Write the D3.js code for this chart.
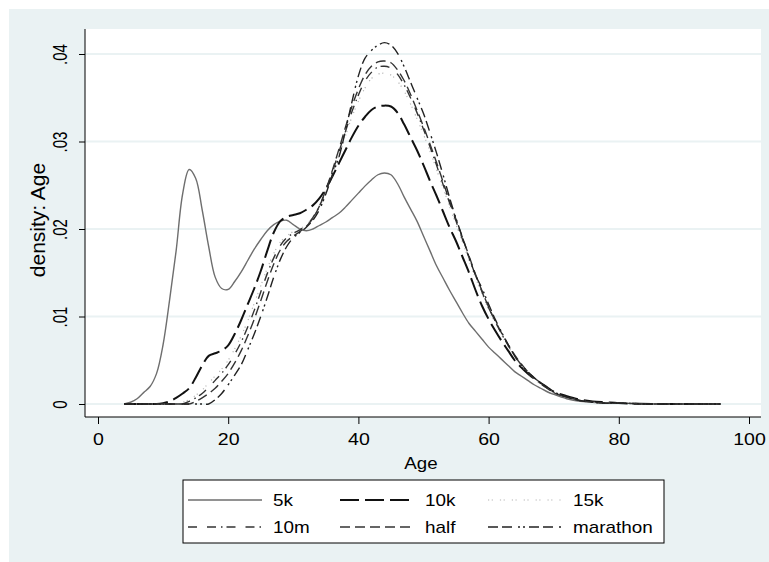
<!DOCTYPE html>
<html>
<head>
<meta charset="utf-8">
<script src="https://cdn.jsdelivr.net/npm/d3@7"></script>
<style>
  body { margin: 0; background: #fff; }
  text { font-family: "Liberation Sans", Arial, sans-serif; fill: #000; }
</style>
</head>
<body>
<script>
// age grid the densities were read at
var ages = [4, 5, 6, 7, 8, 9, 10, 11, 12, 13, 14, 15, 16, 17, 18, 19, 20, 21, 22, 23,
  24, 25, 26, 27, 28, 29, 30, 31, 32, 33, 34, 35, 36, 37, 38, 39, 40, 41, 42, 43,
  44, 45, 46, 47, 48, 49, 50, 51, 52, 53, 54, 55, 56, 57, 58, 59, 60, 61, 62, 63,
  64, 65, 66, 67, 68, 69, 70, 72, 74, 76, 78, 80, 85, 90, 95.6];

var d5k = [0, 0.0002, 0.0006, 0.0013, 0.0020, 0.0035, 0.0068, 0.0119, 0.0175, 0.0240,
  0.0268, 0.0258, 0.0222, 0.0180, 0.0145, 0.0132, 0.0131, 0.0140, 0.0151, 0.0164,
  0.0177, 0.0188, 0.0198, 0.0205, 0.0209, 0.0210, 0.0205, 0.0200, 0.0198, 0.0200,
  0.0204, 0.0208, 0.0213, 0.0218, 0.0225, 0.0233, 0.0241, 0.0249, 0.0256, 0.0262,
  0.0264, 0.0262, 0.0252, 0.0237, 0.0223, 0.0209, 0.0192, 0.0175, 0.0158, 0.0144,
  0.0130, 0.0117, 0.0104, 0.0092, 0.0083, 0.0074, 0.0065, 0.0058, 0.0051, 0.0044,
  0.0037, 0.0032, 0.0027, 0.0022, 0.0018, 0.0014, 0.0011, 0.0006, 0.0003, 0.0002,
  0.0001, 0.0001, 0, 0, 0];

var d10k = [0, 0, 0, 0, 0, 0, 0.0001, 0.0003, 0.0007, 0.0012,
  0.0018, 0.0030, 0.0044, 0.0055, 0.0058, 0.0061, 0.0067, 0.0080, 0.0096, 0.0114,
  0.0132, 0.0152, 0.0175, 0.0196, 0.0209, 0.0214, 0.0216, 0.0218, 0.0222, 0.0227,
  0.0235, 0.0246, 0.0260, 0.0275, 0.0290, 0.0305, 0.0318, 0.0328, 0.0336, 0.0340,
  0.0341, 0.0340, 0.0333, 0.0320, 0.0305, 0.0290, 0.0273, 0.0255, 0.0238, 0.0220,
  0.0202, 0.0186, 0.0168, 0.0150, 0.0130, 0.0112, 0.0097, 0.0084, 0.0072, 0.0061,
  0.0050, 0.0042, 0.0035, 0.0029, 0.0024, 0.0019, 0.0014, 0.0009, 0.0005, 0.0003,
  0.0002, 0.0001, 0, 0, 0];

var d15k = [0, 0, 0, 0, 0, 0, 0, 0, 0, 0.0002,
  0.0005, 0.0010, 0.0016, 0.0024, 0.0032, 0.0040, 0.0050, 0.0063, 0.0078, 0.0095,
  0.0115, 0.0135, 0.0155, 0.0172, 0.0185, 0.0192, 0.0197, 0.0200, 0.0205, 0.0213,
  0.0225, 0.0242, 0.0262, 0.0284, 0.0306, 0.0328, 0.0346, 0.0361, 0.0372, 0.0377,
  0.0378, 0.0376, 0.0369, 0.0358, 0.0343, 0.0326, 0.0308, 0.0289, 0.0268, 0.0247,
  0.0226, 0.0205, 0.0185, 0.0164, 0.0144, 0.0126, 0.0108, 0.0093, 0.0079, 0.0066,
  0.0054, 0.0044, 0.0036, 0.0029, 0.0023, 0.0018, 0.0013, 0.0008, 0.0004, 0.0002,
  0.0001, 0.0001, 0, 0, 0];

var d10m = [0, 0, 0, 0, 0, 0, 0, 0, 0, 0,
  0.0003, 0.0007, 0.0012, 0.0019, 0.0027, 0.0035, 0.0045, 0.0057, 0.0071, 0.0088,
  0.0107, 0.0128, 0.0149, 0.0167, 0.0181, 0.0190, 0.0195, 0.0199, 0.0204, 0.0213,
  0.0226, 0.0244, 0.0265, 0.0288, 0.0311, 0.0334, 0.0353, 0.0369, 0.0379, 0.0385,
  0.0386, 0.0384, 0.0377, 0.0365, 0.0350, 0.0333, 0.0314, 0.0294, 0.0273, 0.0251,
  0.0230, 0.0209, 0.0188, 0.0167, 0.0147, 0.0128, 0.0110, 0.0095, 0.0080, 0.0067,
  0.0055, 0.0045, 0.0036, 0.0029, 0.0023, 0.0018, 0.0013, 0.0008, 0.0004, 0.0002,
  0.0001, 0.0001, 0, 0, 0];

var dHalf = [0, 0, 0, 0, 0, 0, 0, 0, 0, 0,
  0, 0.0003, 0.0007, 0.0012, 0.0018, 0.0026, 0.0035, 0.0047, 0.0061, 0.0078,
  0.0097, 0.0118, 0.0140, 0.0160, 0.0176, 0.0186, 0.0192, 0.0197, 0.0203, 0.0212,
  0.0226, 0.0245, 0.0267, 0.0291, 0.0316, 0.0340, 0.0360, 0.0376, 0.0386, 0.0391,
  0.0392, 0.0390, 0.0382, 0.0370, 0.0354, 0.0336, 0.0317, 0.0297, 0.0276, 0.0254,
  0.0232, 0.0211, 0.0190, 0.0169, 0.0148, 0.0129, 0.0111, 0.0095, 0.0081, 0.0068,
  0.0056, 0.0046, 0.0037, 0.0030, 0.0024, 0.0018, 0.0013, 0.0008, 0.0004, 0.0002,
  0.0001, 0.0001, 0, 0, 0];

var dMarathon = [0, 0, 0, 0, 0, 0, 0, 0, 0, 0,
  0, 0, 0, 0, 0.0005, 0.0012, 0.0022, 0.0033, 0.0045, 0.0062,
  0.0080, 0.0100, 0.0122, 0.0145, 0.0165, 0.0180, 0.0190, 0.0196, 0.0202, 0.0210,
  0.0222, 0.0240, 0.0262, 0.0282, 0.0312, 0.0345, 0.0375, 0.0395, 0.0404, 0.0410,
  0.0413, 0.0410, 0.0401, 0.0386, 0.0368, 0.0350, 0.0332, 0.0310, 0.0287, 0.0262,
  0.0236, 0.0212, 0.0190, 0.0168, 0.0147, 0.0132, 0.0114, 0.0097, 0.0082, 0.0068,
  0.0055, 0.0045, 0.0037, 0.0030, 0.0024, 0.0019, 0.0014, 0.0008, 0.0004, 0.0002,
  0.0001, 0.0001, 0, 0, 0];

var seriesNames = ["5k", "10k", "15k", "10m", "half", "marathon"];
var seriesValues = [d5k, d10k, d15k, d10m, dHalf, dMarathon];

var xTicks = [0, 20, 40, 60, 80, 100];
var yTicks = [0, 0.01, 0.02, 0.03, 0.04];

// line look per series, same order as seriesNames
var styles = [
  { color: "#6e6e6e", width: 1.4, dash: null },
  { color: "#111", width: 2, dash: "19,6" },
  { color: "#b4b4b4", width: 1.2, dash: "1.2,2.5,1.2,7" },
  { color: "#333", width: 1.4, dash: "9,10,9,5,1.5,4" },
  { color: "#333", width: 1.4, dash: "10,5" },
  { color: "#222", width: 1.4, dash: "10,4,10,6,2,3,2,4" }
];

var W = 769, H = 562;
var plot = { left: 85, right: 761, top: 29, bottom: 417 };

var svg = d3.select("body").append("svg")
  .attr("width", W)
  .attr("height", H);

// outer graph region
svg.append("rect")
  .attr("x", 9).attr("y", 9)
  .attr("width", W - 9).attr("height", H - 9)
  .attr("fill", "#eaf2f3");

svg.append("rect")
  .attr("x", plot.left).attr("y", plot.top)
  .attr("width", plot.right - plot.left)
  .attr("height", plot.bottom - plot.top)
  .attr("fill", "#fff");

var x = d3.scaleLinear().domain([0, 100]).range([98, 749]);
var y = d3.scaleLinear().domain([0, 0.04]).range([404, 54]);

// grid lines
svg.selectAll("line.grid")
  .data(yTicks)
  .enter()
  .append("line")
  .attr("class", "grid")
  .attr("x1", plot.left).attr("x2", plot.right)
  .attr("y1", function(d) { return y(d); })
  .attr("y2", function(d) { return y(d); })
  .attr("stroke", "#eaf2f3")
  .attr("stroke-width", 2);

// curves
var line = d3.line()
  .x(function(d) { return x(d[0]); })
  .y(function(d) { return y(d[1]); })
  .curve(d3.curveCatmullRom);

svg.selectAll("path.dens")
  .data(seriesValues)
  .enter()
  .append("path")
  .attr("class", "dens")
  .attr("d", function(vals) {
    return line(ages.map(function(a, i) { return [a, vals[i]]; }));
  })
  .attr("fill", "none")
  .attr("stroke", function(d, i) { return styles[i].color; })
  .attr("stroke-width", function(d, i) { return styles[i].width; })
  .attr("stroke-dasharray", function(d, i) { return styles[i].dash; })
  .attr("stroke-linejoin", "round");

// y axis
var yFmt = function(d) { return d === 0 ? "0" : d3.format(".2f")(d).replace(/^0/, ""); };
var yAxis = svg.append("g")
  .attr("transform", "translate(" + plot.left + ",0)")
  .call(d3.axisLeft(y).tickValues(yTicks).tickFormat(yFmt).tickSize(6).tickSizeOuter(0));
yAxis.select(".domain").attr("d", "M0," + plot.top + "V" + plot.bottom).attr("stroke", "#000");
yAxis.selectAll(".tick line").attr("stroke", "#000");
yAxis.selectAll(".tick text")
  .attr("x", null).attr("dy", null)
  .attr("transform", "translate(-18,0) scale(1.35,1) rotate(-90)")
  .attr("text-anchor", "middle")
  .style("font-size", "15px");

// x axis
var xAxis = svg.append("g")
  .attr("transform", "translate(0," + plot.bottom + ")")
  .call(d3.axisBottom(x).tickValues(xTicks).tickSize(7).tickSizeOuter(0));
xAxis.select(".domain").attr("d", "M" + plot.left + ",0H" + plot.right).attr("stroke", "#000");
xAxis.selectAll(".tick line").attr("stroke", "#000");
xAxis.selectAll(".tick text")
  .attr("y", null).attr("dy", null)
  .attr("transform", "translate(0,28) scale(1.15,1)")
  .style("font-size", "17px");

// axis titles
svg.append("text")
  .attr("transform", "translate(" + ((plot.left + plot.right) / 2 - 2) + ",469) scale(1.1,1)")
  .attr("text-anchor", "middle")
  .style("font-size", "17px")
  .text("Age");

svg.append("text")
  .attr("transform", "translate(45," + ((plot.top + plot.bottom) / 2 - 3) + ") rotate(-90)")
  .attr("text-anchor", "middle")
  .style("font-size", "21px")
  .text("density: Age");

// legend
var legend = svg.append("g");
legend.append("rect")
  .attr("x", 183).attr("y", 480)
  .attr("width", 481).attr("height", 63)
  .attr("fill", "#fff")
  .attr("stroke", "#000");

var colX = [188, 340, 488];
var rowY = [500, 527];

var items = legend.selectAll("g.item")
  .data(seriesNames)
  .enter()
  .append("g")
  .attr("class", "item")
  .attr("transform", function(d, i) {
    return "translate(" + colX[i % 3] + "," + rowY[Math.floor(i / 3)] + ")";
  });

items.append("line")
  .attr("x1", 0).attr("x2", 74)
  .attr("stroke", function(d, i) { return styles[i].color; })
  .attr("stroke-width", function(d, i) { return styles[i].width; })
  .attr("stroke-dasharray", function(d, i) { return styles[i].dash; });

items.append("text")
  .attr("transform", "translate(85,6) scale(1.18,1)")
  .style("font-size", "16px")
  .text(function(d) { return d; });
</script>
</body>
</html>
